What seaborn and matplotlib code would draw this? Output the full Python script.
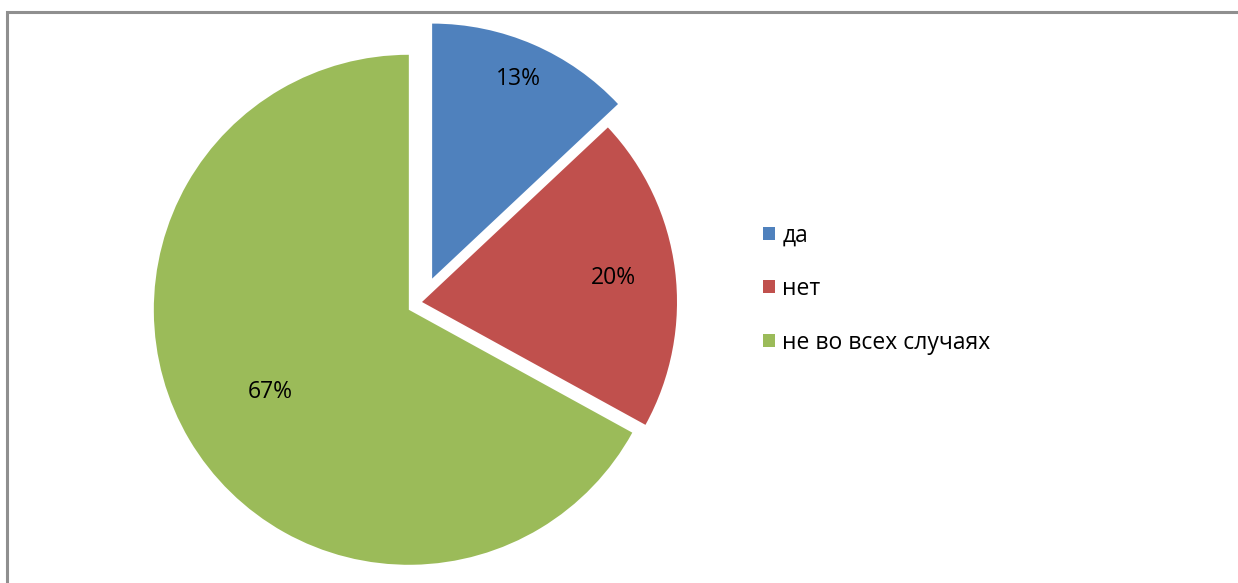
# Pie chart: да / нет / не во всех случаях
import numpy as np
import matplotlib.pyplot as plt
from matplotlib.patches import Rectangle
import seaborn as sns

categories = ['да', 'нет', 'не во всех случаях']
shares = [13, 20, 67]
colors = ['#4F81BD', '#C0504D', '#9BBB59']
explode = [0.10, 0.0, 0.06]
label_dist = [0.855, 0.756, 0.63]

sns.set_style('white')
plt.rcParams['font.family'] = ['Open Sans', 'DejaVu Sans']
plt.rcParams['text.color'] = 'black'

W, H = 1238, 583
fig = plt.figure(figsize=(W / 100, H / 100), dpi=100)

# pie centre at (422, 302) px, radius 255 px
r_px, cx_px, cy_px = 255, 422, 302
half = 1.2 * r_px
ax = fig.add_axes([(cx_px - half) / W, (H - cy_px - half) / H, 2 * half / W, 2 * half / H])

wedges, _ = ax.pie(shares, colors=colors, explode=explode, startangle=90,
                   counterclock=False, radius=1,
                   wedgeprops=dict(linewidth=0))
ax.set_xlim(-1.2, 1.2)
ax.set_ylim(-1.2, 1.2)
ax.set_aspect('equal')
ax.axis('off')

fs = 16.5
total = sum(shares)
for w, v, d in zip(wedges, shares, label_dist):
    ang = np.deg2rad((w.theta1 + w.theta2) / 2)
    x = w.center[0] + d * np.cos(ang)
    y = w.center[1] + d * np.sin(ang)
    ax.text(x, y, f'{round(100 * v / total)}%', ha='center', va='center',
            fontsize=fs, color='black')

leg = fig.legend(wedges, categories, loc='center left',
                 bbox_to_anchor=(763 / W, (H - 289) / H), frameon=False,
                 fontsize=fs, handlelength=0.52, handleheight=0.5,
                 handletextpad=0.33, labelspacing=1.3, borderpad=0, borderaxespad=0)
for t in leg.get_texts():
    t.set_color('black')

# chart-area frame (cut off at right and bottom)
fig.add_artist(Rectangle((6.5 / W, -0.1), 2, (H - 12) / H + 0.1,
                         transform=fig.transFigure, fill=False,
                         edgecolor='#8f8f8f', linewidth=2.2))

fig.savefig('out.png', dpi=100)
